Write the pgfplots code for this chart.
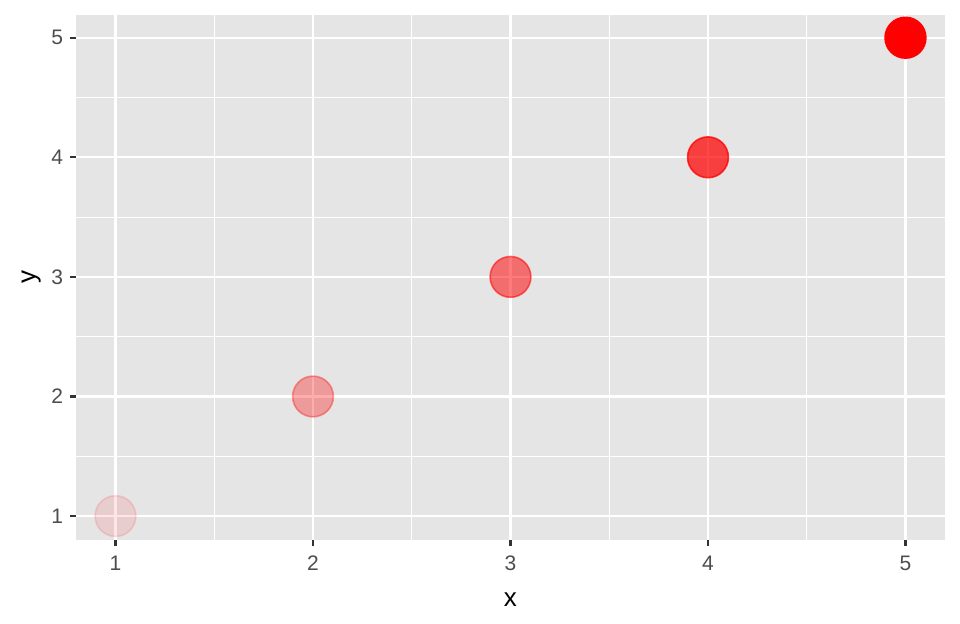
\documentclass[border=0pt]{standalone}
\usepackage{pgfplots}
\pgfplotsset{compat=1.18}
\usepackage{fontspec}
\setmainfont{Liberation Sans}
\definecolor{panelbg}{HTML}{E5E5E5}
\definecolor{tickcol}{HTML}{333333}
\definecolor{ticklab}{HTML}{4D4D4D}
\begin{document}
\begin{tikzpicture}
\useasboundingbox (-38pt,-42pt) rectangle (442pt,270pt);
\begin{axis}[
  at={(0,0)}, anchor=south west,
  scale only axis, width=434.5pt, height=262.5pt,
  xmin=0.8, xmax=5.2, ymin=0.8, ymax=5.19,
  axis background/.style={fill=panelbg},
  axis line style={draw=none},
  xtick={1,2,3,4,5}, ytick={1,2,3,4,5},
  minor xtick={1.5,2.5,3.5,4.5}, minor ytick={1.5,2.5,3.5,4.5},
  grid=both,
  major grid style={white, line width=1.1pt},
  minor grid style={white, line width=0.5pt},
  tick align=outside, tick pos=left,
  major tick length=2.9pt, minor tick length=0pt,
  tick style={tickcol, line width=1.1pt},
  ticklabel style={font=\fontsize{10.5}{11}\selectfont, text=ticklab},
  xticklabel style={yshift=-1.5pt},
  /pgf/number format/assume math mode=true,
  xlabel={x}, ylabel={y},
  label style={font=\fontsize{13}{14}\selectfont},
  xlabel style={yshift=-4pt},
  ylabel style={yshift=-1.5pt},
  clip=false,
]
\addplot[only marks, mark=*, mark size=10.2pt, mark options={fill=red, draw=red, line width=0.8pt, fill opacity=0.1, draw opacity=0.12}] coordinates {(1,1)};
\addplot[only marks, mark=*, mark size=10.2pt, mark options={fill=red, draw=red, line width=0.8pt, fill opacity=0.325, draw opacity=0.35}] coordinates {(2,2)};
\addplot[only marks, mark=*, mark size=10.2pt, mark options={fill=red, draw=red, line width=0.8pt, fill opacity=0.52, draw opacity=0.55}] coordinates {(3,3)};
\addplot[only marks, mark=*, mark size=10.2pt, mark options={fill=red, draw=red, line width=0.8pt, fill opacity=0.72, draw opacity=0.75}] coordinates {(4,4)};
\addplot[only marks, mark=*, mark size=10.2pt, mark options={fill=red, draw=red, line width=0.8pt, opacity=1}] coordinates {(5,5)};
\end{axis}
\end{tikzpicture}
\end{document}
